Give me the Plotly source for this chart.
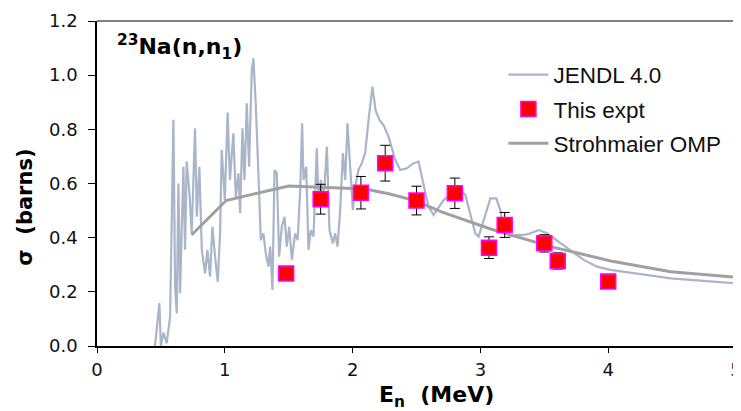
import plotly.graph_objects as go

# JENDL 4.0 evaluation
jendl_e = [0.454, 0.488, 0.50, 0.52, 0.545, 0.572, 0.598, 0.611, 0.624, 0.637, 0.65, 0.676, 0.689,
           0.702, 0.723, 0.741, 0.767, 0.781, 0.801, 0.82, 0.846, 0.864, 0.885, 0.903, 0.924, 0.945,
           0.963, 0.976, 1.0, 1.022, 1.04, 1.067, 1.086, 1.107, 1.12, 1.138, 1.154, 1.172, 1.19,
           1.211, 1.224, 1.243, 1.263, 1.282, 1.302, 1.321, 1.341, 1.355, 1.373, 1.389, 1.407, 1.425,
           1.446, 1.467, 1.485, 1.504, 1.525, 1.55, 1.57, 1.59, 1.605, 1.616, 1.637, 1.655, 1.673,
           1.694, 1.72, 1.733, 1.752, 1.772, 1.799, 1.819, 1.846, 1.864, 1.882, 1.903, 1.924, 1.942,
           1.96, 1.981, 2.002, 2.02, 2.046, 2.072, 2.098, 2.125, 2.155, 2.18, 2.21, 2.242, 2.281,
           2.334, 2.373, 2.425, 2.477, 2.516, 2.555, 2.594, 2.634, 2.673, 2.712, 2.764, 2.817, 2.882,
           2.921, 2.96, 2.986, 3.025, 3.078, 3.124, 3.156, 3.182, 3.234, 3.287, 3.338, 3.39, 3.456,
           3.521, 3.573, 3.626, 3.704, 3.808, 3.913, 4.017, 4.49, 5.0]
jendl_s = [0.0, 0.158, 0.0, 0.05, 0.01, 0.108, 0.835, 0.219, 0.12, 0.60, 0.195, 0.662, 0.355,
           0.681, 0.564, 0.416, 0.804, 0.477, 0.662, 0.355, 0.268, 0.355, 0.256, 0.44, 0.33, 0.237,
           0.416, 0.724, 0.539, 0.862, 0.613, 0.785, 0.551, 0.638, 0.49, 0.804, 0.613, 0.896, 0.662,
           1.019, 1.062, 0.884, 0.638, 0.391, 0.416, 0.342, 0.293, 0.367, 0.207, 0.65, 0.638, 0.33,
           0.44, 0.477, 0.367, 0.44, 0.318, 0.416, 0.391, 0.576, 0.822, 0.613, 0.662, 0.355, 0.428,
           0.404, 0.73, 0.527, 0.613, 0.527, 0.736, 0.428, 0.379, 0.416, 0.367, 0.502, 0.712, 0.613,
           0.822, 0.65, 0.502, 0.588, 0.65, 0.675, 0.712, 0.835, 0.958, 0.87, 0.835, 0.816, 0.773,
           0.687, 0.65, 0.656, 0.675, 0.681, 0.601, 0.514, 0.484, 0.514, 0.539, 0.558, 0.588, 0.558,
           0.49, 0.416, 0.404, 0.465, 0.545, 0.545, 0.502, 0.428, 0.404, 0.41, 0.41, 0.416, 0.428,
           0.416, 0.398, 0.379, 0.355, 0.318, 0.293, 0.281, 0.25, 0.231]

# This experiment
expt_e = [1.48, 1.75, 2.065, 2.255, 2.50, 2.80, 3.067, 3.19, 3.50, 3.605, 4.00]
expt_s = [0.268, 0.542, 0.566, 0.675, 0.537, 0.564, 0.363, 0.447, 0.379, 0.314, 0.238]
expt_err = [0.0, 0.055, 0.06, 0.066, 0.053, 0.056, 0.04, 0.046, 0.032, 0.03, 0.0]

# Strohmaier OMP calculation
omp_e = [0.74, 1.01, 1.5, 1.9, 2.1, 2.3, 2.5, 2.69, 3.08, 3.55, 4.02, 4.49, 5.0]
omp_s = [0.41, 0.537, 0.591, 0.585, 0.58, 0.56, 0.535, 0.496, 0.432, 0.367, 0.314, 0.274, 0.254]

TICKFONT = "DejaVu Sans, sans-serif"
BOLDFONT = "DejaVu Sans, sans-serif"
LEGFONT = "Liberation Sans, Arial, sans-serif"

fig = go.Figure()
fig.add_trace(go.Scatter(x=jendl_e, y=jendl_s, mode="lines", name="JENDL 4.0",
                         line=dict(color="#a9b5c8", width=2.2), legendgroup="a", legendrank=1))
fig.add_trace(go.Scatter(x=omp_e, y=omp_s, mode="lines", name="Strohmaier OMP",
                         line=dict(color="#a0a0a0", width=3), legendgroup="c", legendrank=3))
fig.add_trace(go.Scatter(x=expt_e, y=expt_s, mode="markers", name="This expt",
                         marker=dict(symbol="square", size=15, color="#ff0000",
                                     line=dict(color="#ff00ff", width=1.5)),
                         error_y=dict(type="data", array=expt_err, color="black", thickness=1, width=5),
                         legendgroup="b", legendrank=2))

# the page body adds an 8px offset; size and margins compensate so the plot area matches
fig.update_layout(
    width=741, height=403,
    margin=dict(l=89, r=13, t=13, b=65, autoexpand=False),
    paper_bgcolor="white", plot_bgcolor="white",
    font=dict(family=TICKFONT, size=18, color="#111111"),
    showlegend=True,
    legend=dict(x=0.636, y=0.90, xanchor="left", yanchor="top", bgcolor="rgba(0,0,0,0)",
                font=dict(size=22.5, family=LEGFONT, color="#111111"), tracegroupgap=2,
                itemwidth=40),
    xaxis=dict(range=[0, 5], tickvals=[0, 1, 2, 3, 4, 5], showgrid=False, zeroline=False,
               showline=True, linecolor="black", linewidth=1.5, ticks="outside", ticklen=5,
               tickcolor="black", tickfont=dict(size=18, family=TICKFONT), ticklabelstandoff=2,
               ticklabeloverflow="allow", automargin=False),
    yaxis=dict(range=[0, 1.2], tickvals=[0, 0.2, 0.4, 0.6, 0.8, 1.0, 1.2], tickformat=".1f",
               showgrid=False, zeroline=False, showline=True, linecolor="black", linewidth=1.5,
               ticks="outside", ticklen=7, tickcolor="black", tickfont=dict(size=18, family=TICKFONT),
               ticklabelstandoff=7, automargin=False),
    shapes=[
        dict(type="line", xref="paper", yref="paper", x0=0, x1=1, y0=1, y1=1,
             line=dict(color="#808080", width=2)),
        dict(type="line", xref="paper", yref="paper", x0=1, x1=1, y0=0, y1=1,
             line=dict(color="#b0b0b0", width=2)),
    ],
    annotations=[
        dict(text="<b><sup>23</sup>Na(n,n<sub>1</sub>)</b>", xref="paper", yref="paper",
             x=0.028, y=0.92, xanchor="left", yanchor="middle", showarrow=False,
             font=dict(size=22, family=BOLDFONT, color="black")),
        dict(text="<b>E<sub>n</sub>  (MeV)</b>", xref="paper", yref="paper",
             x=0.532, y=-0.154, xanchor="center", yanchor="middle", showarrow=False,
             font=dict(size=22, family=BOLDFONT, color="black")),
        dict(text="<b>σ  (barns)</b>", xref="paper", yref="paper",
             x=-0.113, y=0.428, xanchor="center", yanchor="middle", showarrow=False, textangle=-90,
             font=dict(size=21, family=BOLDFONT, color="black")),
    ],
)

fig.write_html("out.html")
